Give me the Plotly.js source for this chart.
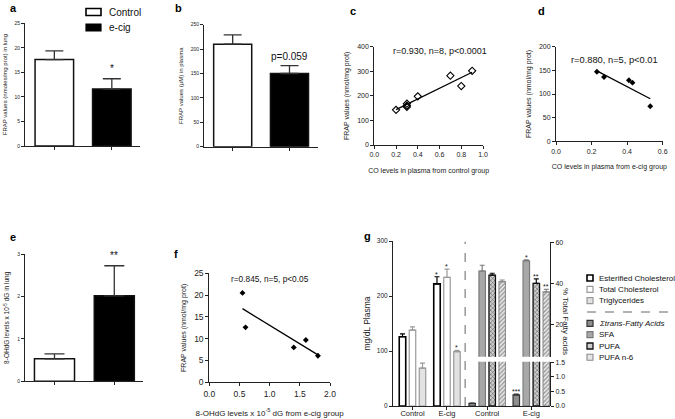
<!DOCTYPE html>
<html>
<head>
<meta charset="utf-8">
<script src="https://cdn.plot.ly/plotly-3.0.1.min.js"></script>
<style>html,body{margin:0;padding:0;background:#fff;}#chart{width:675px;height:419px;}</style>
</head>
<body>
<div id="chart"></div>
<script>
// ---------- DATA ----------
const barGroups = ['Control', 'e-cig'];
// a: FRAP in lung
const aValues = [17.6, 11.6];
const aErrors = [1.8, 2.1];
// b: FRAP in plasma
const bValues = [210, 150];
const bErrors = [19, 16];
const bPText = 'p=0.059';
// c: control group
const cX = [0.2, 0.3, 0.3, 0.3, 0.4, 0.7, 0.8, 0.9];
const cY = [143, 168, 160, 155, 198, 282, 240, 302];
const cFitX = [0.2, 0.9];
const cFitY = [144, 296];
const cStat = 'r=0.930, n=8, p<0.0001';
// d: e-cig group
const dX = [0.23, 0.27, 0.41, 0.43, 0.53];
const dY = [147, 136, 129, 124, 74];
const dFitX = [0.23, 0.53];
const dFitY = [149, 90];
const dStat = 'r=0.880, n=5, p<0.01';
// e: 8-OHdG in lung
const eValues = [0.53, 2.02];
const eErrors = [0.12, 0.71];
// f: 8-OHdG vs FRAP
const fX = [0.55, 0.6, 1.4, 1.6, 1.8];
const fY = [20.5, 12.6, 8.0, 9.7, 6.1];
const fFitX = [0.55, 1.8];
const fFitY = [16.9, 6.3];
const fStat = 'r=0.845, n=5, p<0.05';
// g: plasma lipids and fatty acids
const gCats = ['Control', 'E-cig'];
const cholNames = ['Esterified Cholesterol', 'Total Cholesterol', 'Triglycerides'];
const cholValues = [[126, 222], [138, 234], [69, 99]];
const cholErrors = [[5, 13], [6, 15], [9, 2]];
const cholStars = [['', '*'], ['', '*'], ['', '*']];
const faNames = ['<i>\u03a3trans-Fatty Acids</i>', 'SFA', 'PUFA', 'PUFA n-6'];
const faValues = [[0.09, 0.38], [46, 51], [44, 40], [40.8, 35.8]];
const faErrors = [[0.01, 0.03], [2.8, 0.5], [0.9, 2.2], [0.8, 1.2]];
const faStars = [['', '***'], ['', '*'], ['', '**'], ['', '**']];

// ---------- LAYOUT HELPERS ----------
const W = 675, H = 419;
const FONT = 'Liberation Sans, Arial, Helvetica, sans-serif';
const xd = (a, b) => [a / W, b / W];
const yd = (bottom, top) => [1 - bottom / H, 1 - top / H];
const AX = '#222';
function axis(extra) {
  return Object.assign({
    showline: true, linecolor: AX, linewidth: 1, ticks: 'outside', ticklen: 3,
    tickcolor: AX, tickwidth: 1, showgrid: false, zeroline: false, fixedrange: true,
    tickfont: {family: FONT, size: 7, color: '#222'}
  }, extra);
}
function ann(text, px, py, o) {
  return Object.assign({text: text, x: px / W, y: 1 - py / H, xref: 'paper', yref: 'paper',
    showarrow: false, xanchor: 'center', yanchor: 'middle',
    font: {family: FONT, size: 9, color: '#111'}}, o || {});
}
const zeros = n => new Array(n).fill(0);

const traces = [];
const annotations = [];
const shapes = [];

// simple bar panels a, b, e
function simpleBars(vals, errs, xa, ya, capw) {
  traces.push({
    type: 'bar', x: barGroups, y: vals, xaxis: xa, yaxis: ya, width: 0.67,
    marker: {color: ['#ffffff', '#000000'], line: {color: '#111', width: 1.5}},
    error_y: {type: 'data', symmetric: false, array: errs, arrayminus: zeros(vals.length),
      color: '#333', thickness: 1.3, width: capw},
    showlegend: false, hoverinfo: 'skip'
  });
}
simpleBars(aValues, aErrors, 'x', 'y', 9);
simpleBars(bValues, bErrors, 'x2', 'y2', 9);
simpleBars(eValues, eErrors, 'x5', 'y5', 10);

// scatter panels c, d, f
function scatterPanel(xs, ys, fx, fy, xa, ya, sym, size, lw) {
  traces.push({type: 'scatter', mode: 'markers', x: xs, y: ys, xaxis: xa, yaxis: ya,
    marker: {symbol: sym, size: size, color: '#000', line: {color: '#000', width: lw}},
    showlegend: false, hoverinfo: 'skip', cliponaxis: false});
  traces.push({type: 'scatter', mode: 'lines', x: fx, y: fy, xaxis: xa, yaxis: ya,
    line: {color: '#000', width: 1.3}, showlegend: false, hoverinfo: 'skip'});
}
scatterPanel(cX, cY, cFitX, cFitY, 'x3', 'y3', 'diamond-open', 5.5, 1.1);
scatterPanel(dX, dY, dFitX, dFitY, 'x4', 'y4', 'diamond', 4.5, 0);
scatterPanel(fX, fY, fFitX, fFitY, 'x6', 'y6', 'diamond', 4.5, 0);

// panel g
const cholWidth = 0.188, cholOffsets = [-0.384, -0.094, 0.196];
const cholStyle = [
  {color: '#ffffff', line: '#000', lw: 1.6},
  {color: '#ffffff', line: '#9a9a9a', lw: 1.2},
  {color: '#e2e2e2', line: '#9a9a9a', lw: 1.2}
];
cholNames.forEach((nm, i) => {
  traces.push({type: 'bar', name: nm, x: gCats, y: cholValues[i], xaxis: 'x7', yaxis: 'y7',
    width: cholWidth, offset: cholOffsets[i],
    marker: {color: cholStyle[i].color, line: {color: cholStyle[i].line, width: cholStyle[i].lw}},
    error_y: {type: 'data', symmetric: false, array: cholErrors[i], arrayminus: zeros(2),
      color: cholStyle[i].line, thickness: 1.2, width: 2.5},
    showlegend: false, hoverinfo: 'skip'});
  cholStars[i].forEach((s, j) => {
    if (s) annotations.push({text: s, xref: 'x7', yref: 'y7', x: j + cholOffsets[i] + cholWidth / 2,
      y: cholValues[i][j] + cholErrors[i][j], yanchor: 'bottom', yshift: -3, showarrow: false,
      font: {family: FONT, size: 7, color: '#111'}});
  });
});
const faWidth = 0.147, faOffsets = [-0.414, -0.187, 0.040, 0.266];
const faStyle = [
  {color: '#8e8e8e', line: '#333', lw: 1.2, pattern: null},
  {color: '#a8a8a8', line: '#7a7a7a', lw: 1.2, pattern: null},
  {color: '#c8c8c8', line: '#111', lw: 1.3, pattern: {shape: 'x', fgcolor: '#444', bgcolor: '#cfcfcf', size: 3, solidity: 0.3}},
  {color: '#dcdcdc', line: '#8a8a8a', lw: 1.1, pattern: {shape: '/', fgcolor: '#8a8a8a', bgcolor: '#e6e6e6', size: 3, solidity: 0.35}}
];
[['x8', 'y8'], ['x9', 'y9']].forEach(([xa, ya]) => {
  faNames.forEach((nm, i) => {
    const mk = {color: faStyle[i].color, line: {color: faStyle[i].line, width: faStyle[i].lw}};
    if (faStyle[i].pattern) mk.pattern = faStyle[i].pattern;
    traces.push({type: 'bar', name: nm, x: gCats, y: faValues[i], xaxis: xa, yaxis: ya,
      width: faWidth, offset: faOffsets[i], marker: mk,
      error_y: {type: 'data', symmetric: false, array: faErrors[i], arrayminus: zeros(2),
        color: faStyle[i].line, thickness: 1.2, width: 2.5},
      showlegend: false, hoverinfo: 'skip'});
  });
});
faStars.forEach((arr, i) => {
  arr.forEach((s, j) => {
    if (!s) return;
    const low = faValues[i][j] < 1.5;
    annotations.push({text: s, xref: low ? 'x9' : 'x8', yref: low ? 'y9' : 'y8',
      x: j + faOffsets[i] + faWidth / 2, y: faValues[i][j] + faErrors[i][j],
      yanchor: 'bottom', yshift: -3, showarrow: false, font: {family: FONT, size: 7, color: '#111'}});
  });
});

// asterisks / p-value on simple bars
annotations.push({text: '*', xref: 'x', yref: 'y', x: 1, y: aValues[1] + aErrors[1], yanchor: 'bottom', yshift: 3, showarrow: false, font: {family: FONT, size: 10, color: '#111'}});
annotations.push({text: '**', xref: 'x5', yref: 'y5', x: 1, y: eValues[1] + eErrors[1], yanchor: 'bottom', yshift: 3, showarrow: false, font: {family: FONT, size: 10, color: '#111'}});
annotations.push({text: bPText, xref: 'x2', yref: 'y2', x: 1, y: bValues[1] + bErrors[1], yanchor: 'bottom', yshift: 2, showarrow: false, font: {family: FONT, size: 10, color: '#111'}});

// stats texts
annotations.push(ann(cStat, 440, 51, {font: {family: FONT, size: 9, color: '#111'}}));
annotations.push(ann(dStat, 614, 60, {font: {family: FONT, size: 9.3, color: '#111'}}));
annotations.push(ann(fStat, 270, 279, {font: {family: FONT, size: 8.3, color: '#111'}}));

// panel letters
[['a', 13, 8], ['b', 178, 8], ['c', 353, 11], ['d', 541, 11], ['e', 13, 237], ['f', 176, 254], ['g', 367, 236]]
  .forEach(([t, x, y]) => annotations.push(ann('<b>' + t + '</b>', x, y, {font: {family: FONT, size: 11, color: '#000'}})));

// legend for a
shapes.push({type: 'rect', xref: 'paper', yref: 'paper', x0: 86 / W, x1: 101 / W, y0: 1 - 15.5 / H, y1: 1 - 8.5 / H, fillcolor: '#fff', line: {color: '#000', width: 1.6}});
shapes.push({type: 'rect', xref: 'paper', yref: 'paper', x0: 86 / W, x1: 101 / W, y0: 1 - 31 / H, y1: 1 - 24 / H, fillcolor: '#000', line: {color: '#000', width: 1.2}});
annotations.push(ann(barGroups[0], 107, 12, {xanchor: 'left', font: {family: FONT, size: 10, color: '#111'}}));
annotations.push(ann(barGroups[1], 107, 27.5, {xanchor: 'left', font: {family: FONT, size: 10, color: '#111'}}));

// legend for g
const legRows = [278, 289.3, 300.7, 323.3, 334.6, 346, 357.3];
const legStyles = cholStyle.concat(faStyle);
const legNames = cholNames.concat(faNames);
const bx0 = 587, bx1 = 593;
legNames.forEach((nm, i) => {
  const y = legRows[i], st = legStyles[i];
  shapes.push({type: 'rect', xref: 'paper', yref: 'paper', x0: bx0 / W, x1: bx1 / W,
    y0: 1 - (y + 3) / H, y1: 1 - (y - 3) / H, fillcolor: st.pattern ? st.pattern.bgcolor : st.color,
    line: {color: st.line, width: st.lw}});
  annotations.push(ann(nm, 597, y, {xanchor: 'left', font: {family: FONT, size: 8, color: '#111'}}));
});
shapes.push({type: 'line', xref: 'paper', yref: 'paper', x0: 587 / W, x1: 672 / W, y0: 1 - 312 / H, y1: 1 - 312 / H, line: {color: '#666', width: 1, dash: 'dash'}});
// dashed separator inside g
shapes.push({type: 'line', xref: 'x8', yref: 'paper', x0: -0.5, x1: -0.5, y0: 1 - 406 / H, y1: 1 - 241.7 / H, line: {color: '#888', width: 1.3, dash: 'dash'}});
// right axis title of g
annotations.push(ann('% Total Fatty acids', 566, 321, {textangle: 90, font: {family: FONT, size: 8, color: '#222'}}));

const tiny = {family: FONT, size: 5, color: '#222'};
const layout = {
  width: W, height: 419, margin: {l: 0, r: 0, t: 0, b: 0}, paper_bgcolor: '#fff', plot_bgcolor: 'rgba(0,0,0,0)',
  barmode: 'overlay', showlegend: false, font: {family: FONT},
  // a
  xaxis: axis({domain: xd(25, 140), anchor: 'y', type: 'category', range: [-0.51, 1.49], showticklabels: false}),
  yaxis: axis({domain: yd(146, 23.3), anchor: 'x', range: [0, 25], dtick: 5, tickfont: tiny,
    title: {text: 'FRAP values (nmoles/mg prot) in lung', font: {family: FONT, size: 6, color: '#222'}, standoff: 6}}),
  // b
  xaxis2: axis({domain: xd(204, 318), anchor: 'y2', type: 'category', range: [-0.505, 1.502], showticklabels: false}),
  yaxis2: axis({domain: yd(146.7, 24.7), anchor: 'x2', range: [0, 250], dtick: 50, tickfont: tiny,
    title: {text: 'FRAP values (\u03bcM) in plasma', font: {family: FONT, size: 6, color: '#222'}, standoff: 6}}),
  // c
  xaxis3: axis({domain: xd(374.3, 483), anchor: 'y3', range: [0, 1.0], dtick: 0.2, tickformat: '.1f',
    title: {text: 'CO levels in plasma from control group', font: {family: FONT, size: 7, color: '#222'}, standoff: 10}}),
  yaxis3: axis({domain: yd(145, 46.7), anchor: 'x3', range: [0, 400], dtick: 100,
    title: {text: 'FRAP values (nmol/mg prot)', font: {family: FONT, size: 7, color: '#222'}, standoff: 6}}),
  // d
  xaxis4: axis({domain: xd(556, 662.7), anchor: 'y4', range: [0, 0.6], dtick: 0.2, tickformat: '.1f',
    title: {text: 'CO levels in plasma from e-cig group', font: {family: FONT, size: 7, color: '#222'}, standoff: 10}}),
  yaxis4: axis({domain: yd(141.3, 46.7), anchor: 'x4', range: [0, 200], dtick: 50,
    title: {text: 'FRAP values (nmol/mg prot)', font: {family: FONT, size: 7, color: '#222'}, standoff: 6}}),
  // e
  xaxis5: axis({domain: xd(25, 143), anchor: 'y5', type: 'category', range: [-0.493, 1.48], showticklabels: false}),
  yaxis5: axis({domain: yd(381.3, 254.3), anchor: 'x5', range: [0, 3], dtick: 1, tickfont: tiny,
    title: {text: '8-OHdG levels x 10<sup>-5</sup> dG in lung', font: {family: FONT, size: 6.5, color: '#222'}, standoff: 6}}),
  // f
  xaxis6: axis({domain: xd(209.3, 330), anchor: 'y6', range: [0, 2.0], dtick: 0.5, tickformat: '.1f', tickfont: {family: FONT, size: 8.5, color: '#222'},
    title: {text: '8-OHdG levels x 10<sup>-5</sup> dG from e-cig group', font: {family: FONT, size: 8, color: '#222'}, standoff: 12}}),
  yaxis6: axis({domain: yd(382.3, 273.3), anchor: 'x6', range: [0, 25], dtick: 5, tickfont: {family: FONT, size: 8.5, color: '#222'},
    title: {text: 'FRAP values (nmol/mg prot)', font: {family: FONT, size: 7, color: '#222'}, standoff: 6}}),
  // g left
  xaxis7: axis({domain: xd(393, 550), anchor: 'y7', type: 'category', categoryarray: gCats, range: [-0.565, 3.986],
    tickfont: {family: FONT, size: 7.5, color: '#222'}, ticklabelstandoff: -3}),
  yaxis7: axis({domain: yd(406, 241), anchor: 'x7', range: [0, 300], dtick: 100, tickfont: {family: FONT, size: 6.5, color: '#222'},
    title: {text: 'mg/dL Plasma', font: {family: FONT, size: 8.5, color: '#222'}, standoff: 4}}),
  // g right upper
  xaxis8: {domain: xd(393, 550), anchor: 'y8', type: 'category', categoryarray: gCats, range: [-2.136, 1.424], visible: false, fixedrange: true},
  yaxis8: axis({domain: yd(356.7, 242.3), anchor: 'x8', side: 'right', range: [4.2, 60], tickvals: [20, 40, 60],
    tickfont: {family: FONT, size: 7, color: '#222'}}),
  // g right lower
  xaxis9: axis({domain: xd(393, 550), anchor: 'y9', type: 'category', categoryarray: gCats, range: [-2.136, 1.424], showline: false,
    tickfont: {family: FONT, size: 7.5, color: '#222'}, ticklabelstandoff: -3}),
  yaxis9: axis({domain: yd(406, 361.7), anchor: 'x9', side: 'right', range: [0, 1.52], dtick: 0.5, tickformat: '.1f',
    tickfont: {family: FONT, size: 7, color: '#222'}}),
  annotations: annotations,
  shapes: shapes
};
Plotly.newPlot('chart', traces, layout, {staticPlot: true, displayModeBar: false});
</script>
</body>
</html>
